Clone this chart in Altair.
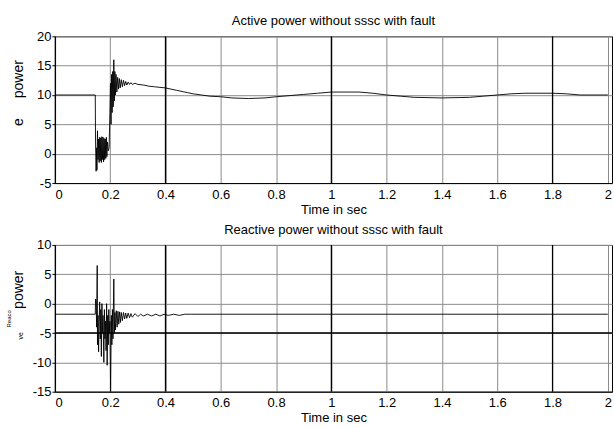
import altair as alt
import pandas as pd

FONT = "Liberation Sans"

# ---- data ----
t_active = [0.0, 0.146, 0.147, 0.149, 0.151, 0.152, 0.154, 0.156, 0.158, 0.160,
            0.162, 0.164, 0.166, 0.168, 0.170, 0.172, 0.174, 0.176, 0.178, 0.180,
            0.182, 0.184, 0.186, 0.188, 0.190, 0.193, 0.196, 0.199, 0.201, 0.203,
            0.205, 0.207, 0.209, 0.211, 0.213, 0.215, 0.217, 0.219, 0.221, 0.224,
            0.227, 0.230, 0.233, 0.236, 0.240, 0.244, 0.248, 0.252, 0.256, 0.260,
            0.265, 0.270, 0.275, 0.280, 0.290, 0.300, 0.320, 0.340, 0.360, 0.380,
            0.400, 0.420, 0.440, 0.460, 0.480, 0.500, 0.530, 0.560, 0.600, 0.640,
            0.700, 0.760, 0.800, 0.850, 0.900, 0.950, 1.000, 1.100, 1.150, 1.200,
            1.250, 1.300, 1.400, 1.500, 1.550, 1.600, 1.650, 1.700, 1.800, 1.850,
            1.900, 1.950, 2.000]
p_active = [10, 10, 2, -3, 1, -2.8, 3.9, -1, 2.5, -1.5,
            2.8, -1.2, 2.7, -1.5, 2.9, -1.0, 2.8, -1.4, 2.6, -1.0,
            2.5, -0.8, 2.8, -0.5, 2.0, 0.5, 1.0, 7, 12, 5,
            13.5, 7, 14, 8, 16, 9, 14, 10, 13.5, 10.5,
            13, 11, 12.8, 11.2, 12.6, 11.4, 12.5, 11.6, 12.3, 11.7,
            12.2, 11.8, 12.1, 11.8, 12.0, 11.8, 11.7, 11.5, 11.4, 11.3,
            11.2, 11.0, 10.8, 10.6, 10.4, 10.2, 10.0, 9.8, 9.7, 9.5,
            9.4, 9.5, 9.7, 9.9, 10.1, 10.3, 10.5, 10.5, 10.3, 10.0,
            9.8, 9.6, 9.5, 9.6, 9.8, 10.0, 10.2, 10.3, 10.3, 10.2,
            10.0, 10.0, 10.0]

t_reactive = [0.0, 0.146, 0.147, 0.149, 0.150, 0.151, 0.153, 0.154, 0.156, 0.158,
              0.160, 0.162, 0.164, 0.166, 0.168, 0.170, 0.172, 0.174, 0.177, 0.179,
              0.181, 0.183, 0.185, 0.187, 0.189, 0.191, 0.193, 0.195, 0.197, 0.199,
              0.2015, 0.204, 0.206, 0.208, 0.210, 0.213, 0.215, 0.217, 0.219, 0.222,
              0.225, 0.228, 0.231, 0.234, 0.237, 0.240, 0.244, 0.248, 0.252, 0.256,
              0.260, 0.265, 0.270, 0.275, 0.280, 0.290, 0.300, 0.310, 0.320, 0.335,
              0.350, 0.365, 0.380, 0.395, 0.410, 0.430, 0.450, 0.470, 0.490, 2.000]
q_reactive = [-1.8, -1.8, 0.8, 0.5, -2, -4, 6.5, -7, -2, -8.2,
              -3, 0.3, -6, -1, -9, 0, -5, -2, -10, -1,
              -6, -3, -8, 0, -10.5, -2, -7, -1, -5, -3,
              -15, -2, -7, -1, -6, 4.2, -5, -1.5, -4.5, -1.2,
              -4, -1.3, -3.5, -1.4, -3.2, -1.5, -2.9, -1.5, -2.6, -1.6,
              -2.5, -1.6, -2.4, -1.7, -2.3, -1.7, -2.2, -1.8, -2.1, -1.8,
              -2.1, -1.8, -2.1, -1.8, -2.0, -1.8, -2.0, -1.8, -1.8, -1.8]

x_ticks = [0, 0.2, 0.4, 0.6, 0.8, 1, 1.2, 1.4, 1.6, 1.8, 2]
y_ticks_top = [-5, 0, 5, 10, 15, 20]
y_ticks_bottom = [-15, -10, -5, 0, 5, 10]
dark_x = [0.4, 1.0, 1.8]
dark_y_top = []
dark_y_bottom = [-5]

GRID = "#8c8c8c"


def panel(t, v, ydom, yticks, title, dark_y, ylabels):
    df = pd.DataFrame({"t": t, "v": v, "i": list(range(len(t)))})
    xs = alt.Scale(domain=[0, 2.015], nice=False, zero=False)
    ys = alt.Scale(domain=ydom, nice=False, zero=False)
    xaxis = alt.Axis(values=x_ticks, labelExpr="'' + datum.value",
                     title="Time in sec", grid=True,
                     gridColor=GRID, gridWidth=1, gridOpacity=1, ticks=False,
                     labelPadding=5, labelFontSize=13, labelColor="black",
                     labelFont=FONT, titleFont=FONT, titleFontSize=13,
                     titleFontWeight="normal", titleColor="black", titlePadding=2,
                     domainColor="black", labelOverlap=False,
                     labelAlign={"expr": "datum.value == 0 ? 'left' : 'center'"})
    yaxis = alt.Axis(values=yticks, labelExpr="'' + datum.value", title=None,
                     grid=True, gridColor=GRID,
                     gridWidth=1, gridOpacity=1, tickSize=3, tickColor="black",
                     labelPadding=1, labelFontSize=13, labelColor="black",
                     labelFont=FONT, domainColor="black", domainWidth=1.3,
                     labelOverlap=False, minExtent=50, maxExtent=50)
    line = alt.Chart(df).mark_line(color="black", strokeWidth=0.9, clip=True).encode(
        x=alt.X("t:Q", scale=xs, axis=xaxis),
        y=alt.Y("v:Q", scale=ys, axis=yaxis),
        order="i:Q",
    )
    layers = [line]
    vr = alt.Chart(pd.DataFrame({"x": dark_x})).mark_rule(
        color="black", strokeWidth=1.3).encode(x=alt.X("x:Q", scale=xs, axis=xaxis))
    layers.append(vr)
    if dark_y:
        hr = alt.Chart(pd.DataFrame({"y": dark_y})).mark_rule(
            color="black", strokeWidth=1.3).encode(y=alt.Y("y:Q", scale=ys, axis=yaxis))
        layers.append(hr)
    for txt, px, py, size in ylabels:
        layers.append(
            alt.Chart(pd.DataFrame({"label": [txt]})).mark_text(
                angle=270, font=FONT, fontSize=size, color="black",
                align="center", baseline="middle").encode(
                text="label:N", x=alt.value(px), y=alt.value(py)))
    return alt.layer(*layers).properties(
        width=558, height=147,
        title=alt.TitleParams(title, fontSize=13, fontWeight="normal", font=FONT,
                              color="black", anchor="middle", offset=2),
    )


top = panel(t_active, p_active, [-5, 20], y_ticks_top,
            "Active power without sssc with fault", dark_y_top,
            [("power", -36, 43, 14), ("e", -36, 86, 14)])
bottom = panel(t_reactive, q_reactive, [-15, 10], y_ticks_bottom,
               "Reactive power without sssc with fault", dark_y_bottom,
               [("power", -36, 45, 14), ("Reaco", -46, 74, 6), ("ve", -34, 91, 7)])

chart = alt.vconcat(top, bottom, spacing=6).configure_view(
    stroke="black", strokeWidth=1).properties(
    padding={"left": 4, "right": 0, "top": 14, "bottom": 4},
    background="white")

chart.save("out.html", embed_options={"renderer": "svg", "actions": False})
